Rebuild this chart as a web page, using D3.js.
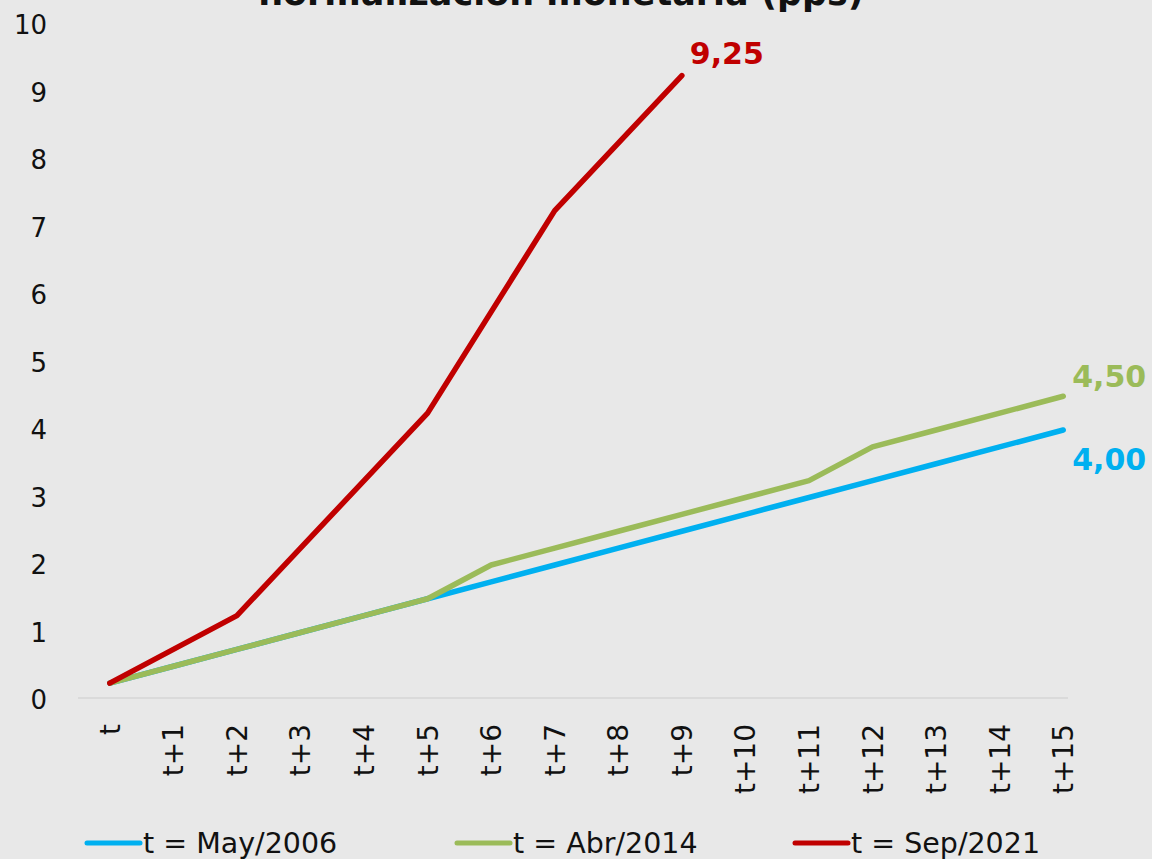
<!DOCTYPE html>
<html>
<head>
<meta charset="utf-8">
<script src="https://cdn.jsdelivr.net/npm/d3@7"></script>
<style>
  html, body { margin: 0; padding: 0; background: #e8e8e8; }
  svg { display: block; }
  text { font-family: "DejaVu Sans", "Noto Sans", sans-serif; fill: #111; }
</style>
</head>
<body>
<div id="chart"></div>
<script>
const periods = ["t", "t+1", "t+2", "t+3", "t+4", "t+5", "t+6", "t+7", "t+8", "t+9",
  "t+10", "t+11", "t+12", "t+13", "t+14", "t+15"];
const may2006 = [0.25, 0.5, 0.75, 1, 1.25, 1.5, 1.75, 2, 2.25, 2.5, 2.75, 3, 3.25, 3.5, 3.75, 4];
const abr2014 = [0.25, 0.5, 0.75, 1, 1.25, 1.5, 2, 2.25, 2.5, 2.75, 3, 3.25, 3.75, 4, 4.25, 4.5];
const sep2021 = [0.25, 0.75, 1.25, 2.25, 3.25, 4.25, 5.75, 7.25, 8.25, 9.25];
const yTicks = [0, 1, 2, 3, 4, 5, 6, 7, 8, 9, 10];
const seriesNames = ["t = May/2006", "t = Abr/2014", "t = Sep/2021"];
const seriesColors = ["#00b0f0", "#9bbb59", "#c00000"];
const title = "normalización monetaria (pps)";

const width = 1152, height = 859;
const margin = { top: 25, right: 57, bottom: 161, left: 78 };

const svg = d3.select("#chart").append("svg")
  .attr("width", width)
  .attr("height", height);

svg.append("rect")
  .attr("width", width).attr("height", height)
  .attr("fill", "#e8e8e8");

// points sit at centre of each category band
const x = d3.scalePoint()
  .domain(periods)
  .range([margin.left, width - margin.right])
  .padding(0.5);

const y = d3.scaleLinear()
  .domain([0, 10])
  .range([height - margin.bottom + 2, margin.top]);

// title (top line is cut off in the original)
svg.append("text")
  .attr("x", 561)
  .attr("y", 5)
  .attr("text-anchor", "middle")
  .attr("font-size", 35)
  .attr("font-weight", "bold")
  .text(title);

// y axis labels
svg.append("g")
  .selectAll("text")
  .data(yTicks)
  .join("text")
  .attr("x", 47)
  .attr("y", (d) => y(d))
  .attr("dy", "0.36em")
  .attr("text-anchor", "end")
  .attr("font-size", 26)
  .text((d) => d);

// x axis line
svg.append("line")
  .attr("x1", margin.left)
  .attr("x2", 1068)
  .attr("y1", y(0) - 2)
  .attr("y2", y(0) - 2)
  .attr("stroke", "#d6d6d6")
  .attr("stroke-width", 1.5);

// x labels, rotated
svg.append("g")
  .selectAll("text")
  .data(periods)
  .join("text")
  .attr("transform", (d) => `translate(${x(d) + 10},${y(0) + 24}) rotate(-90)`)
  .attr("text-anchor", "end")
  .attr("font-size", 28)
  .text((d) => d);

const line = d3.line()
  .x((d, i) => x(periods[i]))
  .y((d) => y(d));

const series = [may2006, abr2014, sep2021];

svg.append("g")
  .selectAll("path")
  .data(series)
  .join("path")
  .attr("d", (d) => line(d))
  .attr("fill", "none")
  .attr("stroke", (d, i) => seriesColors[i])
  .attr("stroke-width", 5.5)
  .attr("stroke-linejoin", "round")
  .attr("stroke-linecap", "round");

// end labels
const endLabels = [
  { s: 2, dx: 8, dy: -12 },
  { s: 1, dx: 9, dy: -9 },
  { s: 0, dx: 9, dy: 40 },
];
svg.append("g")
  .selectAll("text")
  .data(endLabels)
  .join("text")
  .attr("x", (d) => x(periods[series[d.s].length - 1]) + d.dx)
  .attr("y", (d) => y(series[d.s][series[d.s].length - 1]) + d.dy)
  .attr("font-size", 30)
  .attr("font-weight", "bold")
  .style("fill", (d) => seriesColors[d.s])
  .text((d) => series[d.s][series[d.s].length - 1].toFixed(2).replace(".", ","));

// legend
const legendX = [85, 455, 793];
const legend = svg.append("g")
  .selectAll("g")
  .data(seriesNames)
  .join("g")
  .attr("transform", (d, i) => `translate(${legendX[i]},${843})`);

legend.append("line")
  .attr("x1", 2).attr("x2", 55)
  .attr("stroke", (d, i) => seriesColors[i])
  .attr("stroke-width", 5)
  .attr("stroke-linecap", "round");

legend.append("text")
  .attr("x", 58)
  .attr("dy", "0.36em")
  .attr("font-size", 28.5)
  .text((d) => d);
</script>
</body>
</html>
